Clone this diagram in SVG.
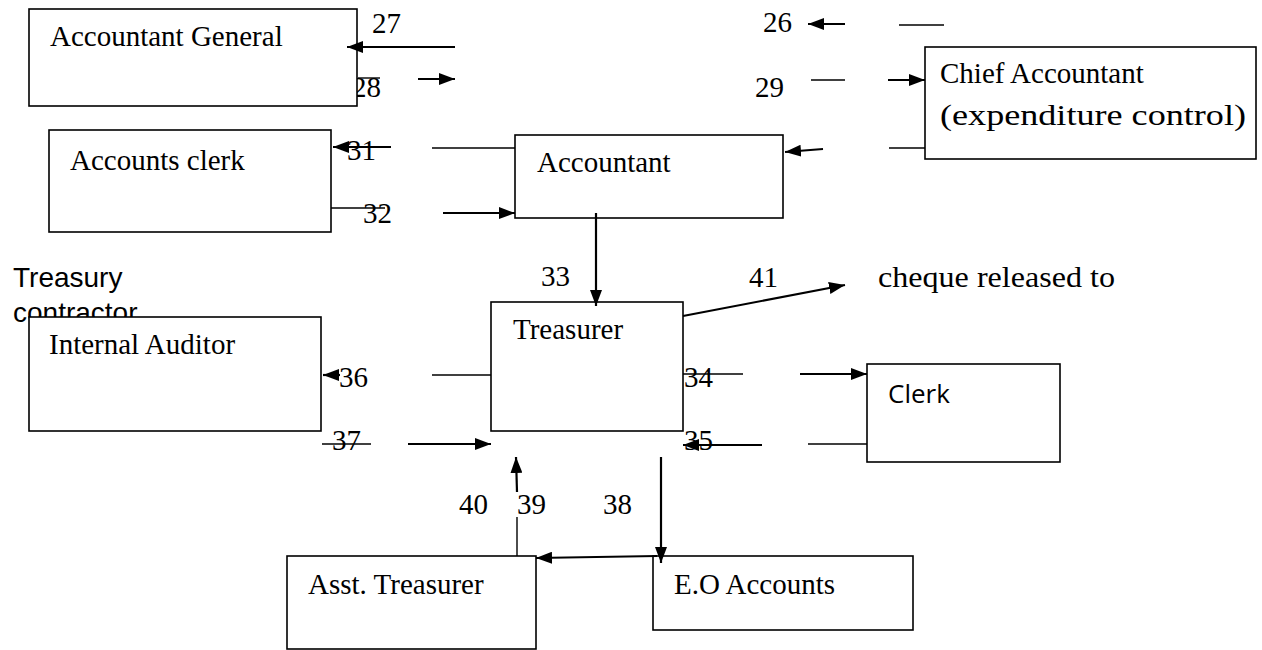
<svg xmlns="http://www.w3.org/2000/svg" width="1262" height="650" viewBox="0 0 1262 650">
<defs>
<marker id="ah" markerUnits="userSpaceOnUse" markerWidth="17" markerHeight="12" refX="16" refY="6" orient="auto">
<path d="M0,0 L16,6 L0,12 z" fill="#000"/>
</marker>
<style>
.t{font-family:"Liberation Serif","Times New Roman",serif;font-size:29px;fill:#000}
.s{font-family:"Liberation Sans",Arial,sans-serif;font-size:28px;fill:#000}
.c{font-family:"Open Sans","Liberation Sans",sans-serif;font-size:26px;fill:#000}
.box{fill:#fff;stroke:#000;stroke-width:1.6}
.a{stroke:#000;stroke-width:2.2;fill:none;marker-end:url(#ah)}
.l{stroke:#000;stroke-width:1.4;fill:none}
</style>
</defs>
<rect width="1262" height="650" fill="#fff"/>
<g id="labels">
<text class="t" x="372" y="33">27</text>
<text class="t" x="352" y="97">28</text>
<text class="t" x="763" y="32">26</text>
<text class="t" x="755" y="97">29</text>
<text class="t" x="347" y="160">31</text>
<text class="t" x="363" y="223">32</text>
<text class="t" x="541" y="286">33</text>
<text class="t" x="749" y="287">41</text>
<text class="t" x="339" y="387">36</text>
<text class="t" x="684" y="387">34</text>
<text class="t" x="332" y="450">37</text>
<text class="t" x="684" y="450">35</text>
<text class="t" x="459" y="514">40</text>
<text class="t" x="517" y="514">39</text>
<text class="t" x="603" y="514">38</text>
</g>
<g id="free-text">
<text class="s" x="13" y="287">Treasury</text>
<text class="s" x="13" y="322">contractor</text>
<text class="t" x="878" y="287" textLength="237" lengthAdjust="spacingAndGlyphs">cheque released to</text>
</g>
<g id="accountant-general">
<rect class="box" x="29" y="9" width="328" height="97"/>
<text class="t" x="50" y="46">Accountant General</text>
</g>
<g id="chief-accountant">
<rect class="box" x="925" y="47" width="331" height="112"/>
<text class="t" x="940" y="83">Chief Accountant</text>
<text class="t" x="940" y="125" style="font-size:30px" textLength="306" lengthAdjust="spacingAndGlyphs">(expenditure control)</text>
</g>
<g id="accounts-clerk">
<rect class="box" x="49" y="130" width="282" height="102"/>
<text class="t" x="70" y="170">Accounts clerk</text>
</g>
<g id="accountant">
<rect class="box" x="515" y="135" width="268" height="83"/>
<text class="t" x="537" y="172">Accountant</text>
</g>
<g id="internal-auditor">
<rect class="box" x="29" y="317" width="292" height="114"/>
<text class="t" x="49" y="354">Internal Auditor</text>
</g>
<g id="treasurer">
<rect class="box" x="491" y="302" width="192" height="129"/>
<text class="t" x="513" y="339">Treasurer</text>
</g>
<g id="clerk">
<rect class="box" x="867" y="364" width="193" height="98"/>
<text class="c" x="888" y="403">Clerk</text>
</g>
<g id="asst-treasurer">
<rect class="box" x="287" y="556" width="249" height="93"/>
<text class="t" x="308" y="594">Asst. Treasurer</text>
</g>
<g id="eo-accounts">
<rect class="box" x="653" y="556" width="260" height="74"/>
<text class="t" x="674" y="594">E.O Accounts</text>
</g>
<g id="connectors">
<path class="a" d="M455,47 L347,47"/>
<path class="l" d="M358,78 L380,78"/>
<path class="a" d="M418,79 L455,79"/>
<path class="a" d="M845,24 L808,24"/>
<path class="l" d="M899,25 L944,25"/>
<path class="l" d="M811,80 L845,80"/>
<path class="a" d="M888,80 L925,80"/>
<path class="l" d="M889,148 L925,148"/>
<path class="a" d="M823,149 L785,152"/>
<path class="a" d="M391,147 L333,147"/>
<path class="l" d="M432,148 L515,148"/>
<path class="l" d="M331,208 L385,208"/>
<path class="a" d="M443,213 L515,213"/>
<path class="a" d="M596,213 L596,306"/>
<path class="a" d="M683,316 L845,285"/>
<path class="a" d="M340,375 L323,375"/>
<path class="l" d="M432,375 L491,375"/>
<path class="l" d="M683,374 L743,374"/>
<path class="a" d="M800,374 L867,374"/>
<path class="l" d="M322,444 L371,444"/>
<path class="a" d="M408,444 L491,444"/>
<path class="a" d="M762,445 L683,445"/>
<path class="l" d="M808,444 L867,444"/>
<path class="a" d="M517,492 L516,457"/>
<path class="l" d="M517,517 L517,556"/>
<path class="a" d="M661,457 L661,563"/>
<path class="a" d="M657,556 L536,558"/>
</g>
</svg>
